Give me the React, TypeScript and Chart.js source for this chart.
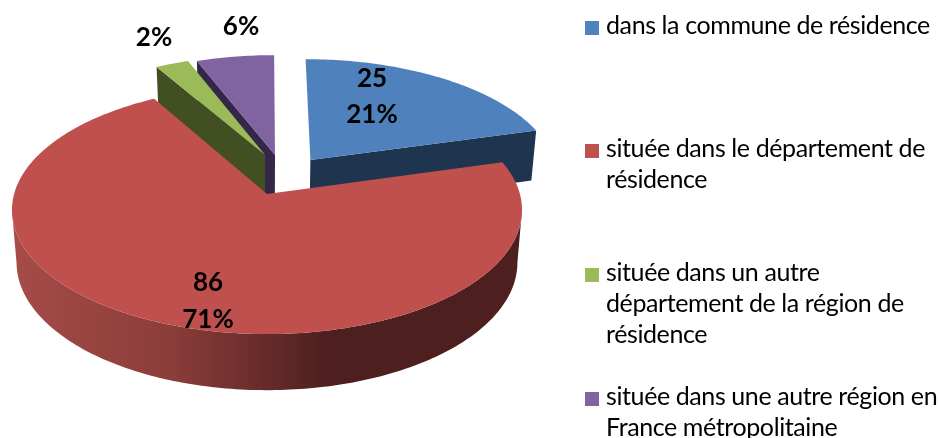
import React, { useEffect, useRef } from "react";
import { Chart, registerables } from "chart.js";

Chart.register(...registerables);

const categories = [
  ["dans la commune de résidence"],
  ["située dans le département de", "résidence"],
  ["située dans un autre", "département de la région de", "résidence"],
  ["située dans une autre région en", "France métropolitaine"],
];
const sliceValues = [25, 86, 3, 7];
const showCount = [true, true, false, false];
const topColors = ["#4f81bd", "#bf504d", "#9bbb59", "#8064a2"];
const wallColors = ["#1f344f", "#4d1f1e", "#414f22", "#35274a"];
// Exploded-slice shift on the pie's plane, in units of one radius.
const explodeX = [0.178, 0, -0.008, 0.033];
const explodeY = [-0.289, 0, -0.334, -0.334];
const paintOrder = [3, 2, 0, 1];
const legendBaselines = [[34], [157, 188], [281, 312, 343], [405, 436]];
const labelCenters = [[372, 79, 115], [208, 283, 320], [154, 38, 38], [241, 27, 27]];

const FONT = "Lato, Calibri, sans-serif";

function project(X: number, Y: number): [number, number] {
  const w = 1 - 0.129 * Y;
  return [267 + (252.9 * X) / w, 194 + (122 * Y) / w];
}
function drop(p: [number, number]): [number, number] {
  return [267 + (p[0] - 267) * 0.982, p[1] + 50 + 0.03 * (p[1] - 131)];
}

const pseudo3d = {
  id: "pseudo3d",
  beforeDatasetDraw(chart: any) {
    const { ctx } = chart;
    const arcs = chart.getDatasetMeta(0).data;
    const rim = (i: number, a: number) =>
      project(explodeX[i] + Math.cos(a), explodeY[i] + Math.sin(a));
    const poly = (pts: [number, number][], fill: any) => {
      ctx.beginPath();
      pts.forEach((p, k) => (k ? ctx.lineTo(p[0], p[1]) : ctx.moveTo(p[0], p[1])));
      ctx.closePath();
      ctx.fillStyle = fill;
      ctx.fill();
    };
    const redWall = ctx.createLinearGradient(12, 0, 330, 0);
    redWall.addColorStop(0, "#a64b48");
    redWall.addColorStop(0.5, "#8b3d3a");
    redWall.addColorStop(1, "#4d1f1e");

    ctx.save();
    for (const i of paintOrder) {
      const { startAngle: s, endAngle: e } = arcs[i].getProps(["startAngle", "endAngle"]);
      const apex = project(explodeX[i], explodeY[i]);
      const n = Math.ceil(((e - s) * 180) / Math.PI);
      const edge: [number, number][] = [];
      const front: [number, number][] = [];
      for (let k = 0; k <= n; k++) {
        const a = s + ((e - s) * k) / n;
        const p = rim(i, a);
        edge.push(p);
        if (Math.sin(a) > 0.12) front.push(p);
      }
      const wallFill = i === 1 ? redWall : wallColors[i];
      if (front.length > 1) {
        poly([...front, ...front.map(drop).reverse()], wallFill);
      }
      if (-Math.cos(s) > 0) {
        const c = edge[0];
        poly([apex, c, drop(c), drop(apex)], wallColors[i]);
      }
      if (Math.cos(e) > 0) {
        const c = edge[edge.length - 1];
        poly([apex, c, drop(c), drop(apex)], wallColors[i]);
      }
      poly([apex, ...edge], topColors[i]);
    }
    ctx.restore();
    return false;
  },
  afterDraw(chart: any) {
    const { ctx } = chart;
    const total = sliceValues.reduce((a, b) => a + b, 0);
    ctx.save();
    ctx.textBaseline = "alphabetic";
    ctx.fillStyle = "#000";
    ctx.textAlign = "left";
    ctx.font = `25px ${FONT}`;
    ctx.letterSpacing = "-0.4px";
    categories.forEach((lines, i) => {
      ctx.fillStyle = topColors[i];
      ctx.fillRect(585, legendBaselines[i][0] - 13, 14, 14);
      ctx.fillStyle = "#000";
      lines.forEach((line, k) => ctx.fillText(line, 606, legendBaselines[i][k]));
    });
    ctx.letterSpacing = "0px";
    ctx.font = `bold 26px ${FONT}`;
    ctx.textAlign = "center";
    ctx.textBaseline = "middle";
    sliceValues.forEach((v, i) => {
      const [x, y1, y2] = labelCenters[i];
      if (showCount[i]) ctx.fillText(String(v), x, y1);
      ctx.fillText(`${Math.round((v / total) * 100)}%`, x, y2);
    });
    ctx.restore();
  },
};

export default function App() {
  const ref = useRef<HTMLCanvasElement>(null);
  useEffect(() => {
    document.body.style.margin = "0";
    const chart = new Chart(ref.current as HTMLCanvasElement, {
      type: "pie",
      data: {
        labels: categories.map((c) => c.join(" ")),
        datasets: [{ data: sliceValues, backgroundColor: topColors, borderWidth: 0 }],
      },
      options: {
        responsive: false,
        animation: false,
        layout: { padding: { right: 406 } },
        plugins: { legend: { display: false }, tooltip: { enabled: false } },
      },
      plugins: [pseudo3d],
    } as any);
    return () => chart.destroy();
  }, []);
  return <canvas ref={ref} width={940} height={438} style={{ display: "block" }} />;
}
